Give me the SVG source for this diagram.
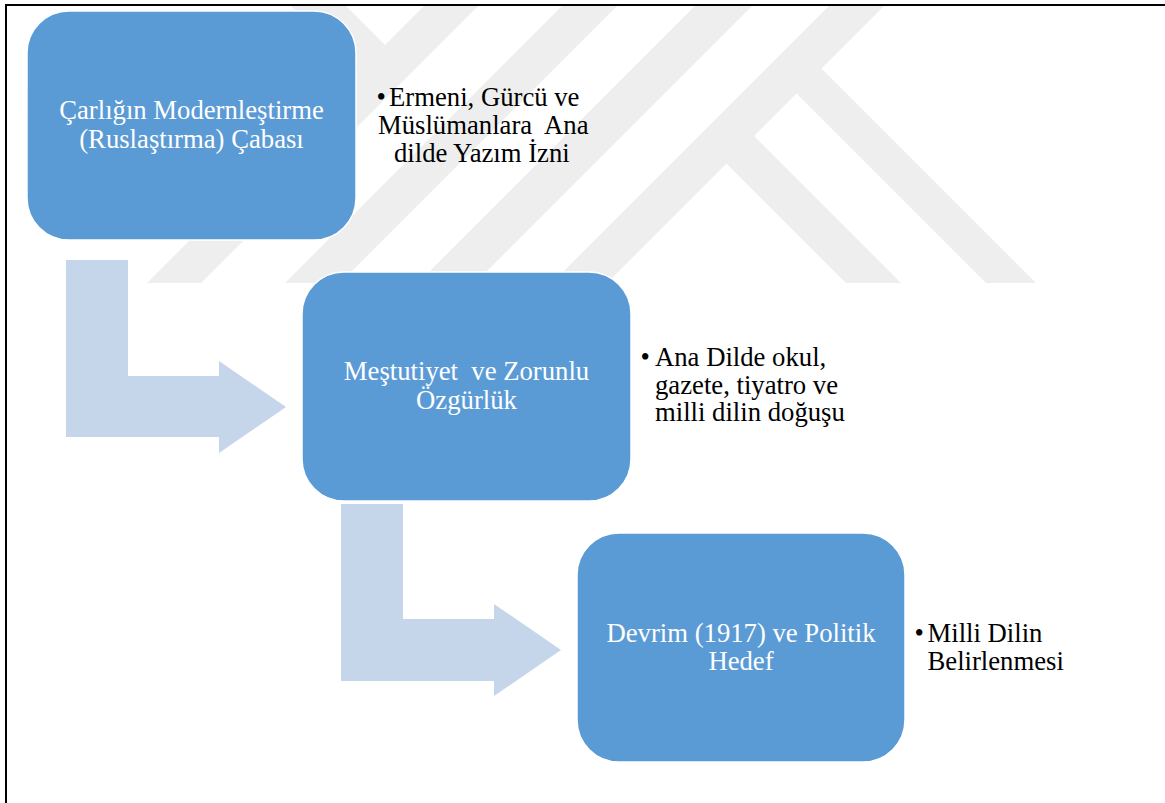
<svg xmlns="http://www.w3.org/2000/svg" width="1165" height="803" viewBox="0 0 1165 803">
<style>
.wm{fill:#eeeeee}
.arrow{fill:#c5d5ea}
.box{fill:#5b9bd5;stroke:#ffffff;stroke-width:1.5}
.lbl{font-family:'Times New Roman','Liberation Serif','Noto Serif','DejaVu Serif',serif;font-size:26.7px;fill:#ffffff;text-anchor:middle;white-space:pre}
.side{font-family:'Times New Roman','Liberation Serif','Noto Serif','DejaVu Serif',serif;font-size:26.7px;fill:#000000;white-space:pre}
</style>
<rect x="0" y="0" width="1165" height="803" fill="#ffffff"/>
<g id="watermark">
<polygon class="wm" points="425,5 479,5 201,283 147,283"/>
<polygon class="wm" points="563,5 618,5 340,283 285,283"/>
<polygon class="wm" points="696,5 753,5 475,283 418,283"/>
<polygon class="wm" points="830,5 885,5 607,283 552,283"/>
<polygon class="wm" points="290,5 345,5 385,45 357.5,72.5"/>
<polygon class="wm" points="749,131 901,283 846,283 721.5,158.5"/>
<polygon class="wm" points="816.5,63.5 1036,283 986,283 791.5,88.5"/>
</g>
<path d="M6,803 V5 H1165" fill="none" stroke="#000000" stroke-width="2"/>
<g id="connectors">
<polygon class="arrow" points="66,260 128,260 128,376 219,376 219,361 286,407 219,453 219,437 66,437"/>
<polygon class="arrow" points="341,504 403,504 403,619 494,619 494,604 561,650 494,696 494,681 341,681"/>
</g>
<g id="node1">
<rect class="box" x="27" y="11" width="329" height="229" rx="42" ry="42"/>
<text class="lbl" x="191.5" y="119">Çarlığın Modernleştirme</text>
<text class="lbl" x="191.5" y="147.5">(Ruslaştırma) Çabası</text>
</g>
<g id="note1">
<text class="side" y="106"><tspan x="376.5">•</tspan><tspan x="389">Ermeni, Gürcü ve</tspan></text>
<text class="side" x="378" y="134">Müslümanlara  Ana</text>
<text class="side" x="394" y="162">dilde Yazım İzni</text>
</g>
<g id="node2">
<rect class="box" x="302" y="272" width="329" height="229" rx="42" ry="42"/>
<text class="lbl" x="466.5" y="380">Meştutiyet  ve Zorunlu</text>
<text class="lbl" x="466.5" y="408.5">Özgürlük</text>
</g>
<g id="note2">
<text class="side" y="366"><tspan x="640.5">•</tspan><tspan x="655">Ana Dilde okul,</tspan></text>
<text class="side" x="655" y="393.5">gazete, tiyatro ve</text>
<text class="side" x="655" y="421">milli dilin doğuşu</text>
</g>
<g id="node3">
<rect class="box" x="577" y="533" width="328" height="229" rx="42" ry="42"/>
<text class="lbl" x="741" y="641.5">Devrim (1917) ve Politik</text>
<text class="lbl" x="741" y="670">Hedef</text>
</g>
<g id="note3">
<text class="side" y="641.5"><tspan x="914.5">•</tspan><tspan x="927.5">Milli Dilin</tspan></text>
<text class="side" x="927.5" y="669.5">Belirlenmesi</text>
</g>
</svg>
